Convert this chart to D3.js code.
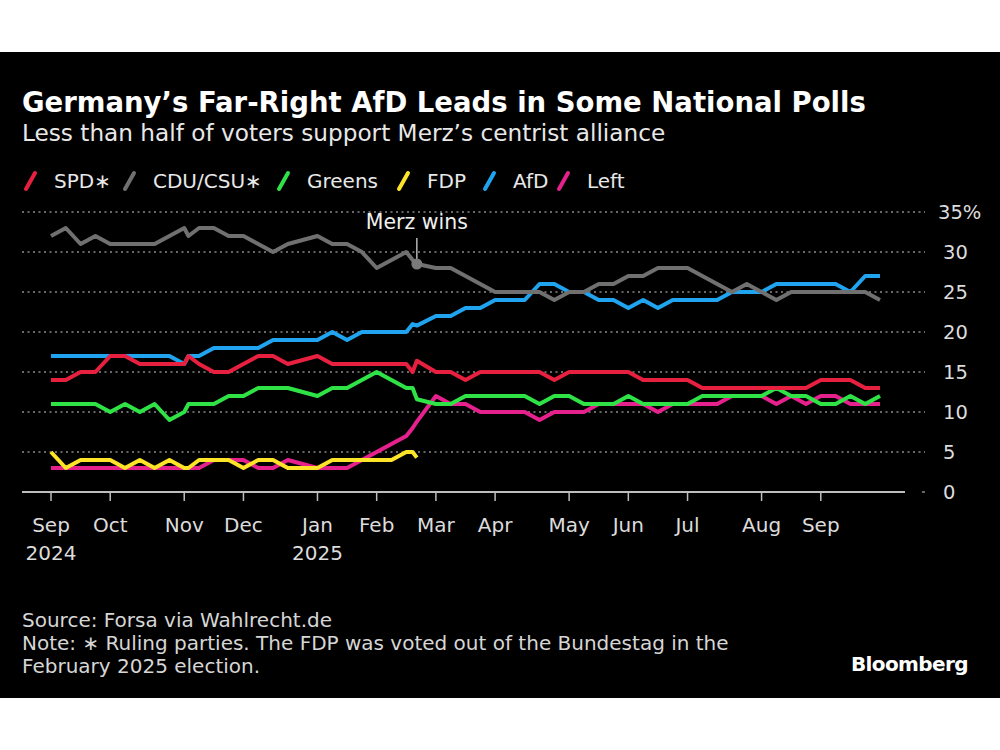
<!DOCTYPE html>
<html>
<head>
<meta charset="utf-8">
<script src="https://cdn.jsdelivr.net/npm/d3@7"></script>
<style>
  html, body { margin: 0; padding: 0; background: #fff; }
  svg { display: block; font-family: "DejaVu Sans", sans-serif; }
</style>
</head>
<body>
<svg id="chart" width="1000" height="750"></svg>
<script>
// weekly Forsa polls (Dec 31 skipped), plus the extra Nov 7 poll, the last
// pre-election poll (Feb 21) and the election result (Feb 23)
const pollDates = [
  '2024-09-03', '2024-09-10', '2024-09-17', '2024-09-24', '2024-10-01',
  '2024-10-08', '2024-10-15', '2024-10-22', '2024-10-29', '2024-11-05',
  '2024-11-07', '2024-11-12', '2024-11-19', '2024-11-26', '2024-12-03',
  '2024-12-10', '2024-12-17', '2024-12-24', '2025-01-07', '2025-01-14',
  '2025-01-21', '2025-01-28', '2025-02-04', '2025-02-11', '2025-02-18',
  '2025-02-21', '2025-02-23', '2025-03-04', '2025-03-11', '2025-03-18',
  '2025-03-25', '2025-04-01', '2025-04-08', '2025-04-15', '2025-04-22',
  '2025-04-29', '2025-05-06', '2025-05-13', '2025-05-20', '2025-05-27',
  '2025-06-03', '2025-06-10', '2025-06-17', '2025-06-24', '2025-07-01',
  '2025-07-08', '2025-07-15', '2025-07-22', '2025-07-29', '2025-08-05',
  '2025-08-12', '2025-08-19', '2025-08-26', '2025-09-02', '2025-09-09',
  '2025-09-16', '2025-09-23', '2025-09-30',
];

const spd = [
  14, 14, 15, 15, 17, 17, 16, 16, 16, 16,
  17, 16, 15, 15, 16, 17, 17, 16,
  17, 16, 16, 16, 16, 16, 16, 15, 16.4,
  15, 15, 14, 15, 15, 15, 15, 15, 14, 15, 15, 15, 15, 15,
  14, 14, 14, 14, 13, 13, 13, 13, 13, 13, 13, 13, 14, 14, 14, 13, 13,
];
const cdu = [
  32, 33, 31, 32, 31, 31, 31, 31, 32, 33,
  32, 33, 33, 32, 32, 31, 30, 31,
  32, 31, 31, 30, 28, 29, 30, 29, 28.5,
  28, 28, 27, 26, 25, 25, 25, 25, 24, 25, 25, 26, 26, 27,
  27, 28, 28, 28, 27, 26, 25, 26, 25, 24, 25, 25, 25, 25, 25, 25, 24,
];
const greens = [
  11, 11, 11, 11, 10, 11, 10, 11, 9, 10,
  11, 11, 11, 12, 12, 13, 13, 13,
  12, 13, 13, 14, 15, 14, 13, 13, 11.6,
  11, 11, 12, 12, 12, 12, 12, 11, 12, 12, 11, 11, 11, 12,
  11, 11, 11, 11, 12, 12, 12, 12, 12, 13, 12, 12, 11, 11, 12, 11, 12,
];
const fdp = [
  5, 3, 4, 4, 4, 3, 4, 3, 4, 3,
  3, 4, 4, 4, 3, 4, 4, 3,
  3, 4, 4, 4, 4, 4, 5, 5, 4.3,
];
const afd = [
  17, 17, 17, 17, 17, 17, 17, 17, 17, 16,
  17, 17, 18, 18, 18, 18, 19, 19,
  19, 20, 19, 20, 20, 20, 20, 21, 20.8,
  22, 22, 23, 23, 24, 24, 24, 26, 26, 25, 25, 24, 24, 23,
  24, 23, 24, 24, 24, 24, 25, 25, 25, 26, 26, 26, 26, 26, 25, 27, 27,
];
const left = [
  3, 3, 3, 3, 3, 3, 3, 3, 3, 3,
  3, 3, 4, 4, 4, 3, 3, 4,
  3, 3, 3, 4, 5, 6, 7, 8, 8.8,
  12, 11, 11, 10, 10, 10, 10, 9, 10, 10, 10, 11, 11, 11,
  11, 10, 11, 11, 11, 11, 12, 12, 12, 11, 12, 11, 12, 12, 11, 11, 11,
];

const partyNames = ['SPD∗', 'CDU/CSU∗', 'Greens', 'FDP', 'AfD', 'Left'];
const partyColors = ['#e8203f', '#707070', '#2fe346', '#fde428', '#20a4ef', '#e5218d'];
const partyValues = [spd, cdu, greens, fdp, afd, left];
const yTicks = [0, 5, 10, 15, 20, 25, 30, 35];
const electionDate = '2025-02-23';

const parseDate = d3.timeParse('%Y-%m-%d');
const dates = pollDates.map(parseDate);

const parties = partyNames.map((name, k) => ({
  name,
  color: partyColors[k],
  points: dates.map((date, i) => ({ date, v: partyValues[k][i] })),
}));

const svg = d3.select('#chart');

// black card between white bands
svg.append('rect').attr('x', 0).attr('y', 52).attr('width', 1000).attr('height', 646).attr('fill', '#000');

const x = d3.scaleTime().domain([dates[0], dates[dates.length - 1]]).range([51, 880]);
const y = d3.scaleLinear().domain([0, 35]).range([492, 212]);

// titles
svg.append('text').attr('x', 22).attr('y', 112)
  .attr('fill', '#fff').attr('font-size', 27.5).attr('font-weight', 'bold')
  .text('Germany’s Far-Right AfD Leads in Some National Polls');
svg.append('text').attr('x', 22).attr('y', 141)
  .attr('fill', '#e8e8e8').attr('font-size', 23.2)
  .text('Less than half of voters support Merz’s centrist alliance');

// legend: label starts follow the reference spacing
const legendTextX = [54, 153, 307, 427, 513, 587];
const legend = svg.append('g').attr('transform', 'translate(0,188)');
parties.forEach((p, k) => {
  const lx = legendTextX[k];
  legend.append('line')
    .attr('x1', lx - 28).attr('y1', 1).attr('x2', lx - 19).attr('y2', -15)
    .attr('stroke', p.color).attr('stroke-width', 4).attr('stroke-linecap', 'round');
  legend.append('text').attr('x', lx).attr('y', 0)
    .attr('fill', '#e8e8e8').attr('font-size', 20)
    .text(p.name);
});

// grid
const grid = svg.append('g');
grid.selectAll('line')
  .data(yTicks.filter(t => t > 0))
  .enter()
  .append('line')
  .attr('x1', 22).attr('x2', 925)
  .attr('y1', d => y(d)).attr('y2', d => y(d))
  .attr('stroke', '#8a8a8a').attr('stroke-width', 1.5)
  .attr('stroke-dasharray', '2,3.5');

// baseline + a single dot out at the label column like the grid ends
svg.append('line').attr('x1', 22).attr('x2', 905).attr('y1', y(0)).attr('y2', y(0))
  .attr('stroke', '#bdbdbd').attr('stroke-width', 2);
svg.append('line').attr('x1', 922).attr('x2', 925).attr('y1', y(0)).attr('y2', y(0))
  .attr('stroke', '#8a8a8a').attr('stroke-width', 1.5);

// y labels, right side
svg.append('g').selectAll('text')
  .data(yTicks)
  .enter()
  .append('text')
  .attr('x', d => (d === 35 ? 938 : 943))
  .attr('y', d => y(d))
  .attr('dy', '0.36em')
  .attr('fill', '#dcdcdc').attr('font-size', 19.5)
  .text(d => (d === 35 ? `${d}%` : d));

// x ticks: first poll of each month
const monthTicks = Array.from(
  d3.group(dates, d => d3.timeFormat('%Y-%m')(d)).values(),
  arr => arr[0]
);
const xAxis = svg.append('g');
xAxis.selectAll('line')
  .data(monthTicks)
  .enter()
  .append('line')
  .attr('x1', d => x(d)).attr('x2', d => x(d))
  .attr('y1', y(0)).attr('y2', y(0) + 9)
  .attr('stroke', '#bdbdbd').attr('stroke-width', 1.5);

const tickLabels = xAxis.selectAll('text')
  .data(monthTicks)
  .enter()
  .append('text')
  .attr('text-anchor', 'middle')
  .attr('fill', '#dcdcdc').attr('font-size', 20);
tickLabels.append('tspan')
  .attr('x', d => x(d)).attr('y', 532)
  .text(d3.timeFormat('%b'));
tickLabels.filter((d, i) => i === 0 || d.getMonth() === 0)
  .append('tspan')
  .attr('x', d => x(d)).attr('y', 560)
  .text(d3.timeFormat('%Y'));

// lines, Left at the bottom and SPD on top
const line = d3.line()
  .defined(d => d.v != null)
  .x(d => x(d.date))
  .y(d => y(d.v));

svg.append('g').selectAll('path')
  .data(parties.slice().reverse())
  .enter()
  .append('path')
  .attr('fill', 'none')
  .attr('stroke', d => d.color)
  .attr('stroke-width', 4)
  .attr('stroke-linejoin', 'round')
  .attr('d', d => line(d.points));

// Merz wins annotation on the election result
const eDate = parseDate(electionDate);
const eIdx = pollDates.indexOf(electionDate);
const ex = x(eDate);
const ey = y(cdu[eIdx]);
svg.append('line').attr('x1', ex).attr('x2', ex).attr('y1', 238).attr('y2', ey - 5)
  .attr('stroke', '#e0e0e0').attr('stroke-width', 1.2);
svg.append('circle').attr('cx', ex).attr('cy', ey).attr('r', 5.5)
  .attr('fill', '#7a7a7a');
svg.append('text').attr('x', ex).attr('y', 229)
  .attr('text-anchor', 'middle')
  .attr('fill', '#f0f0f0').attr('font-size', 20.5)
  .text('Merz wins');

// footer
const notes = [
  'Source: Forsa via Wahlrecht.de',
  'Note: ∗ Ruling parties. The FDP was voted out of the Bundestag in the',
  'February 2025 election.',
];
svg.append('g').selectAll('text')
  .data(notes)
  .enter()
  .append('text')
  .attr('x', 22)
  .attr('y', (d, i) => 627 + i * 23)
  .attr('fill', '#d6d6d6').attr('font-size', 20)
  .text(d => d);

svg.append('text').attr('x', 968).attr('y', 671)
  .attr('text-anchor', 'end')
  .attr('fill', '#fff').attr('font-size', 20).attr('font-weight', 'bold')
  .attr('letter-spacing', -0.6)
  .text('Bloomberg');
</script>
</body>
</html>
